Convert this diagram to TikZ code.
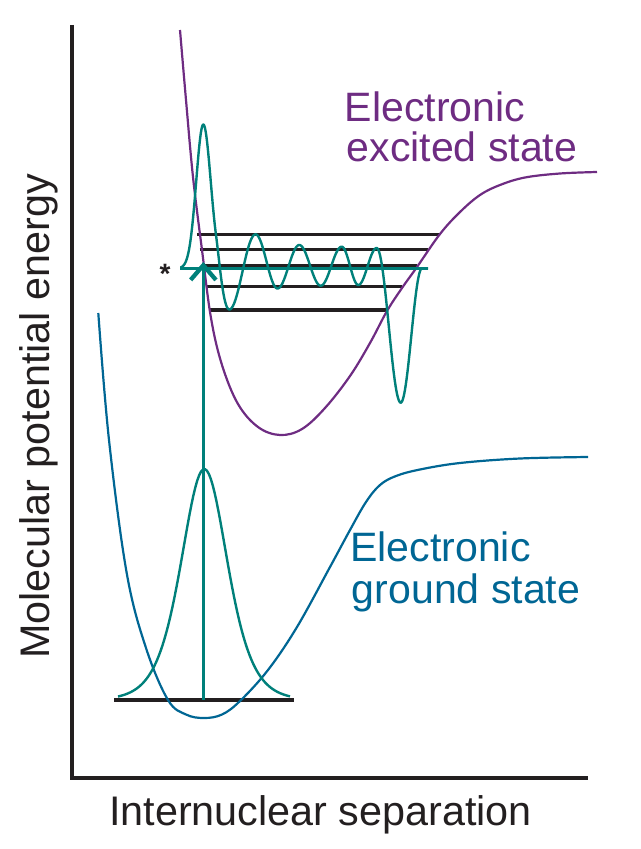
\documentclass[tikz,border=0pt]{standalone}
\usepackage{fontspec}
\setmainfont{Liberation Sans}
\usetikzlibrary{arrows.meta}
\definecolor{excc}{RGB}{110,44,130}
\definecolor{gndc}{RGB}{0,102,148}
\definecolor{wavc}{RGB}{0,128,122}
\definecolor{levc}{RGB}{35,31,32}
\newcommand\hc[4]{-- plot[domain=0:180,samples=30] ({#1+(#3-#1)*\x/180},{(#2+#4)/2+(#2-#4)/2*cos(\x)})}
\begin{document}
\begin{tikzpicture}[x=0.75pt,y=-0.75pt,
  pot/.style={line width=1.65pt,line join=round},
  lvl/.style={draw=levc,line width=2.4pt},
  wav/.style={draw=wavc,line width=1.8pt,line join=round},
  axis/.style={draw=levc,line width=3pt,line join=miter},
  biglab/.style={inner sep=0pt,font=\fontsize{31}{37}\selectfont,text=levc},
  statelab/.style={inner sep=0pt,anchor=base west,font=\fontsize{30.8}{37}\selectfont}]
\useasboundingbox (0,0) rectangle (640,849);
% axes
\coordinate (ytop) at (72,25);
\coordinate (orig) at (72,778);
\coordinate (xend) at (588,778);
\draw[axis] (ytop) -- (orig) -- (xend);
\node[biglab,rotate=90,anchor=base] (ylab) at (49,416.5) {Molecular potential energy};
\node[biglab,anchor=base] (xlab) at (320.5,825.5) {Internuclear separation};
% vibrational levels of excited state
\draw[lvl] (197,234.3) -- (440,234.3);
\draw[lvl] (199.5,249.3) -- (428,249.3);
\draw[lvl] (203,265.8) -- (417,265.8);
\draw[lvl] (206,286.7) -- (402,286.7);
\draw[lvl] (208.5,310) -- (387,310);
% ground level
\draw[lvl] (114,700) -- (294,700);
% potential curves
\draw[pot,draw=gndc] plot[smooth,tension=0.6] coordinates {(98.3,313) (109,440) (126.7,573) (146,648) (168,700) (186,714.5) (204,718) (222,714.5) (240,701) (268,670) (297,627) (330,567) (350,530) (366,502) (380,485) (396,476) (420,469.5) (460,463) (520,458.5) (588,457)};
\draw[pot,draw=excc] plot[smooth,tension=0.6] coordinates {(180,30) (186,100) (193,177) (202,250) (211,318) (222,365) (238,404) (258,427) (280,435) (302,429) (325,408) (350,376) (370,343) (387,311) (402,288) (417,267) (440,234) (460,212) (480,195) (500,185) (525,177.5) (560,173.5) (597,172)};
% ground-state wavefunction
\draw[wav] plot[domain=118:290,samples=90] (\x,{700-231*4/(exp((\x-204.3)/31)+exp(-(\x-204.3)/31))^2});
% excited-state wavefunction
\draw[wav] plot[domain=180.5:203.3,samples=30] (\x,{268.3-143.8*exp(-((\x-203.3)/10)^2)})
  -- plot[domain=203.3:216,samples=25] (\x,{268.3-143.8*exp(-((\x-203.3)/10.5)^2)})
  .. controls (220,265.7) and (223.3,309.5) .. (229.3,309.5)
  \hc{229.3}{309.5}{255.5}{234.3}
  \hc{255.5}{234.3}{277.5}{288.5}
  \hc{277.5}{288.5}{299.3}{245}
  \hc{299.3}{245}{320.7}{285.7}
  \hc{320.7}{285.7}{341.7}{246.7}
  \hc{341.7}{246.7}{358.3}{285}
  \hc{358.3}{285}{376.7}{248}
  \hc{376.7}{248}{400.7}{402.7}
  \hc{400.7}{402.7}{422}{268.3}
  -- (428,268.3);
% excited level line (teal)
\coordinate (eL) at (180,268.3);
\coordinate (eR) at (428,268.3);
\draw[draw=wavc,line width=2.6pt] (eL) -- (eR);
% transition arrow
\coordinate (g0) at (203.3,700);
\coordinate (e3) at (203.3,262);
\draw[draw=wavc,line width=2.1pt,-{Straight Barb[length=11pt,width=19pt,line width=3.2pt]}] (g0) -- (e3);
% asterisk
\node[inner sep=0pt,anchor=base,font=\fontsize{21}{21}\bfseries\selectfont,text=levc] (star) at (165,283) {*};
% state labels
\node[statelab,text=excc] (exc1) at (344.7,121) {Electronic};
\node[statelab,text=excc] (exc2) at (346.4,161) {excited state};
\node[statelab,text=gndc] (gnd1) at (350,561) {Electronic};
\node[statelab,text=gndc] (gnd2) at (351.7,603) {ground state};
\end{tikzpicture}
\end{document}
